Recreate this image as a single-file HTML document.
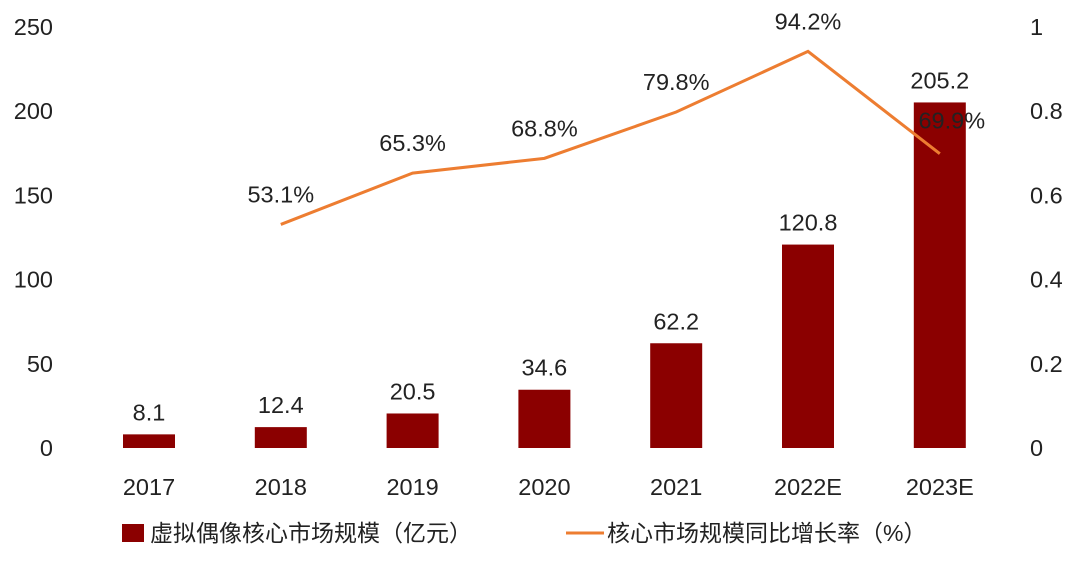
<!DOCTYPE html>
<html><head><meta charset="utf-8"><style>
body{margin:0;background:#fff;}
svg text{font-family:"Liberation Sans","Noto Sans CJK SC",sans-serif;fill:#222;}
</style></head><body>
<svg id="chart" width="1080" height="564" viewBox="0 0 1080 564" xmlns="http://www.w3.org/2000/svg"></svg>
<script>
const categories=["2017","2018","2019","2020","2021","2022E","2023E"];
const marketSize=[8.1,12.4,20.5,34.6,62.2,120.8,205.2];
const growthRate=[null,0.531,0.653,0.688,0.798,0.942,0.699];
const growthLabels=["","53.1%","65.3%","68.8%","79.8%","94.2%","69.9%"];
const leftTicks=[0,50,100,150,200,250];
const rightTicks=["0","0.2","0.4","0.6","0.8","1"];
const rightTickVals=[0,0.2,0.4,0.6,0.8,1];

const svg=document.getElementById('chart');
const NS="http://www.w3.org/2000/svg";
const y0=448,yTop=27;
const yL=v=>y0-(v/250)*(y0-yTop);
const yR=v=>y0-v*(y0-yTop);
const xC=i=>149+i*131.8;
function mk(tag,attrs,txt){const e=document.createElementNS(NS,tag);for(const k in attrs)e.setAttribute(k,attrs[k]);if(txt!==undefined)e.textContent=txt;svg.appendChild(e);return e;}

leftTicks.forEach(t=>{const e=mk('text',{x:53,y:yL(t)+8,'text-anchor':'end','font-size':23.5},String(t));

});
rightTicks.forEach((t,i)=>{const e=mk('text',{x:1030,y:yR(rightTickVals[i])+8,'text-anchor':'start','font-size':23.5},t);

});
categories.forEach((c,i)=>{const e=mk('text',{x:xC(i),y:495,'text-anchor':'middle','font-size':23.5},c);

});

marketSize.forEach((v,i)=>{const b=mk('rect',{x:xC(i)-26,y:yL(v),width:52,height:y0-yL(v),fill:'#8b0000'});


const t=mk('text',{x:xC(i),y:yL(v)-14,'text-anchor':'middle','font-size':23.5},v.toFixed(1));

});

let pts=[];growthRate.forEach((v,i)=>{if(v!==null)pts.push(xC(i)+','+yR(v));});
const line=mk('polyline',{points:pts.join(' '),fill:'none',stroke:'#ed7d31','stroke-width':3});


growthRate.forEach((v,i)=>{if(v===null)return;
const dx=(i===6)?12:0;
const t=mk('text',{x:xC(i)+dx,y:yR(v)-22,'text-anchor':'middle','font-size':23.5},growthLabels[i]);
if(i===6)t.setAttribute('y',yR(v)-25);

});

const l1=mk('rect',{x:122,y:524,width:22,height:18,fill:'#8b0000'});


const lt1=mk('text',{x:150,y:541,'font-size':23},'虚拟偶像核心市场规模（亿元）');


const l2=mk('line',{x1:566,y1:533,x2:604,y2:533,stroke:'#ed7d31','stroke-width':3});


const lt2=mk('text',{x:607,y:541,'font-size':23},'核心市场规模同比增长率（%）');


</script>
</body></html>
